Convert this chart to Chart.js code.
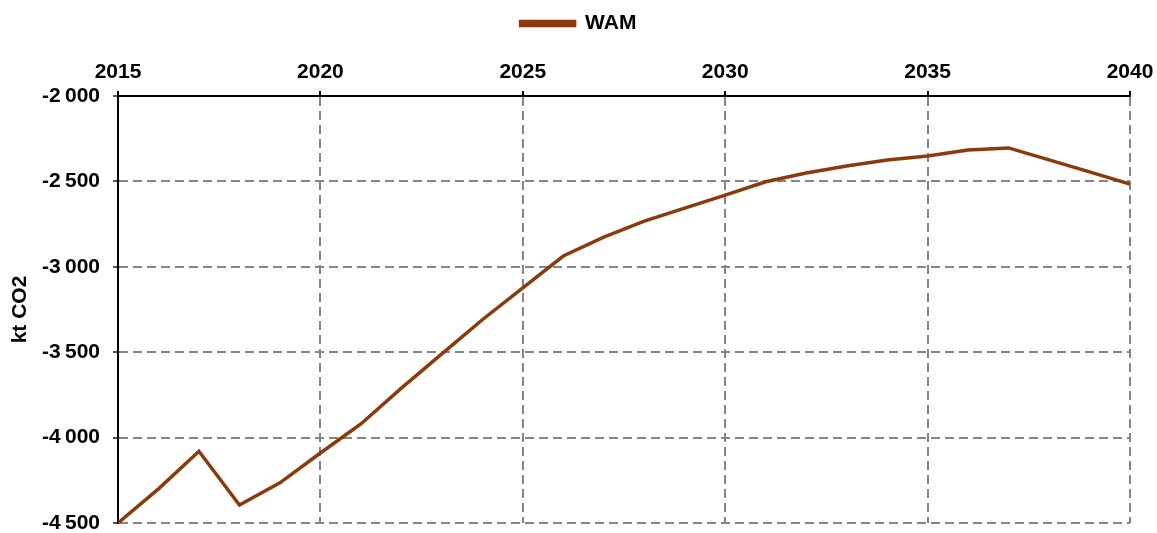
<!DOCTYPE html>
<html>
<head>
<meta charset="utf-8">
<script src="https://cdn.jsdelivr.net/npm/chart.js@4"></script>
<style>
  html, body { margin: 0; padding: 0; background: #fff; }
  #wrap { width: 1157px; height: 533px; }
</style>
</head>
<body>
<div id="wrap"><canvas id="c" width="1157" height="533"></canvas></div>
<script>
const years = [2015, 2016, 2017, 2018, 2019, 2020, 2021, 2022, 2023, 2024, 2025, 2026, 2027,
               2028, 2029, 2030, 2031, 2032, 2033, 2034, 2035, 2036, 2037, 2038, 2039, 2040];
const wam = [-4500, -4300, -4080, -4395, -4265, -4090, -3920, -3710, -3510, -3310, -3124, -2937, -2826,
             -2732, -2656, -2580, -2502, -2451, -2410, -2375, -2351, -2316, -2304, -2374, -2444, -2515];
const seriesName = 'WAM';
const yTitle = 'kt CO2';
const xTicks = [2015, 2020, 2025, 2030, 2035, 2040];
const yTicks = [-4500, -4000, -3500, -3000, -2500, -2000];

const FONT = 'Liberation Sans, Arial, sans-serif';
const LINE_COLOR = '#8B3A0C';

function fmt(v) {
  const s = Math.abs(v).toString().replace(/\B(?=(\d{3})+(?!\d))/g, '\u2009');
  return (v < 0 ? '-' : '') + s;
}

new Chart(document.getElementById('c'), {
  type: 'line',
  data: {
    datasets: [{
      label: seriesName,
      data: years.map((y, i) => ({ x: y, y: wam[i] })),
      borderColor: LINE_COLOR,
      backgroundColor: LINE_COLOR,
      borderWidth: 3.5,
      pointRadius: 0,
      tension: 0,
      fill: false
    }]
  },
  options: {
    responsive: false,
    animation: false,
    layout: { padding: 0 },
    plugins: {
      legend: {
        display: true,
        position: 'top',
        labels: {
          boxWidth: 54,
          boxHeight: 4,
          padding: 13,
          color: '#000',
          font: { family: FONT, size: 21, weight: 'bold' }
        }
      },
      tooltip: { enabled: false }
    },
    scales: {
      x: {
        type: 'linear',
        position: 'top',
        min: 2015,
        max: 2040,
        afterBuildTicks: (s) => { s.ticks = xTicks.map(v => ({ value: v })); },
        afterFit: (s) => {
          const lh = s.chart.legend ? s.chart.legend.height : 40;
          s.height = 96 - lh;
          s.paddingLeft = 0;
          s.paddingRight = 27;
        },
        ticks: {
          color: '#000',
          padding: 6,
          maxRotation: 0,
          font: { family: FONT, size: 21, weight: 'bold' },
          callback: (v) => String(v)
        },
        grid: {
          color: '#858585',
          lineWidth: 2,
          tickLength: 5,
          tickColor: '#000',
          tickWidth: 2,
          tickBorderDash: []
        },
        border: { display: true, color: '#000', width: 2, dash: [9, 5] }
      },
      y: {
        type: 'linear',
        min: -4500,
        max: -2000,
        afterBuildTicks: (s) => { s.ticks = yTicks.map(v => ({ value: v })); },
        afterFit: (s) => {
          s.width = 118;
          s.paddingTop = 0;
          s.paddingBottom = 10;
        },
        title: {
          display: true,
          text: yTitle,
          color: '#000',
          font: { family: FONT, size: 21, weight: 'bold' },
          padding: { top: 8, bottom: 0 }
        },
        ticks: {
          color: '#000',
          padding: 13,
          font: { family: FONT, size: 21, weight: 'bold' },
          callback: (v) => fmt(v)
        },
        grid: {
          color: '#858585',
          lineWidth: 2,
          tickLength: 5,
          tickColor: '#555',
          tickWidth: 2,
          tickBorderDash: []
        },
        border: { display: true, color: '#000', width: 2, dash: [9, 5] }
      }
    }
  }
});
</script>
</body>
</html>
